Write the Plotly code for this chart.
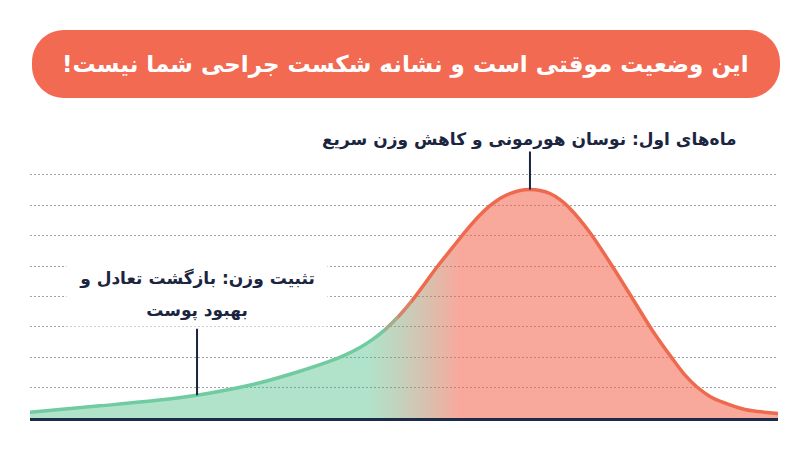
import plotly.graph_objects as go

# ---- data ----
x_vals = [0, 9.36, 17.38, 22.33, 30.08, 35.43, 40.11, 42.11, 44.12, 45.72, 47.19, 49.47,
          51.47, 54.41, 56.42, 58.42, 60.16, 61.5, 62.83, 64.17, 65.51, 66.84,
          68.18, 69.52, 70.86, 72.06, 74.87, 77.81, 80.48, 83.16, 85.83, 87.57, 89.17,
          90.91, 92.51, 95.59, 100]
y_vals = [0.19, 0.40, 0.59, 0.75, 1.12, 1.49, 1.87, 2.07, 2.32, 2.57, 2.85, 3.40,
          3.99, 4.97, 5.59, 6.20, 6.68, 6.99, 7.23, 7.39, 7.49, 7.52,
          7.49, 7.39, 7.19, 6.93, 6.10, 5.01, 3.96, 2.90, 1.97, 1.41, 1.02,
          0.71, 0.53, 0.28, 0.15]
grid_vals = [1, 2, 3, 4, 5, 6, 7, 8]

title_text = "این وضعیت موقتی است و نشانه شکست جراحی شما نیست!\u200f"
peak_label = "ماه‌های اول: نوسان هورمونی و کاهش وزن سریع"
tail_label_1 = "تثبیت وزن: بازگشت تعادل و"
tail_label_2 = "بهبود پوست"
peak_idx = 21
tail_idx = 3

W, H = 800, 450
FONT = "DejaVu Sans"
NAVY = "#1B2540"
X_LEFT_PX, X_RIGHT_PX = 30, 778
X_MIN, X_MAX = 0, 100
Y_RANGE = [0, 8.5]
Y_DOMAIN = [(H - 418) / H, (H - 159.8) / H]
SMOOTH = 0.8


def px_to_x(px):
    return X_MIN + (px - X_LEFT_PX) / (X_RIGHT_PX - X_LEFT_PX) * (X_MAX - X_MIN)


fig = go.Figure()

# gradient filled area
fig.add_trace(go.Scatter(
    x=x_vals, y=y_vals, mode="lines",
    line=dict(width=0, shape="spline", smoothing=SMOOTH),
    fill="tozeroy",
    fillgradient=dict(
        type="horizontal",
        colorscale=[[0, "rgba(60,185,125,0.40)"], [0.45, "rgba(60,185,125,0.40)"],
                    [0.575, "rgba(244,100,78,0.56)"], [1, "rgba(244,100,78,0.56)"]],
        start=0, stop=100),
    hoverinfo="skip", showlegend=False))

# outline: the same full curve drawn in clipped windows (green -> blend -> coral)
windows = [("x2", X_LEFT_PX, 385, "rgb(112,203,160)"),
           ("x3", 385, 398, "rgb(168,172,138)"),
           ("x4", 398, 412, "rgb(216,132,106)"),
           ("x5", 412, X_RIGHT_PX, "#EE6A4F")]
axis_defs = {}
for name, pa, pb, col in windows:
    fig.add_trace(go.Scatter(
        x=x_vals, y=y_vals, mode="lines", xaxis=name, yaxis="y2",
        line=dict(width=3.5, color=col, shape="spline", smoothing=SMOOTH),
        hoverinfo="skip", showlegend=False))
    axis_defs["xaxis" + name[1:]] = dict(
        domain=[pa / W, pb / W], range=[px_to_x(pa), px_to_x(pb)],
        anchor="y2", visible=False, fixedrange=True)

# banner (pill shape) in pixel coordinates converted to paper
def P(px, py):
    return f"{px / W:.5f},{1 - py / H:.5f}"

x0, x1, y0, y1, r = 32, 780, 30, 98, 32
k = 0.5523 * r
path = (f"M{P(x0 + r, y0)} L{P(x1 - r, y0)} "
        f"C{P(x1 - r + k, y0)} {P(x1, y0 + r - k)} {P(x1, y0 + r)} "
        f"L{P(x1, y1 - r)} "
        f"C{P(x1, y1 - r + k)} {P(x1 - r + k, y1)} {P(x1 - r, y1)} "
        f"L{P(x0 + r, y1)} "
        f"C{P(x0 + r - k, y1)} {P(x0, y1 - r + k)} {P(x0, y1 - r)} "
        f"L{P(x0, y0 + r)} "
        f"C{P(x0, y0 + r - k)} {P(x0 + r - k, y0)} {P(x0 + r, y0)} Z")

label_font = dict(family=FONT, size=17, color=NAVY, weight="bold")

fig.update_layout(
    width=W, height=H,
    margin=dict(l=0, r=0, t=0, b=0),
    paper_bgcolor="white", plot_bgcolor="rgba(0,0,0,0)",
    showlegend=False,
    shapes=[dict(type="path", path=path, xref="paper", yref="paper",
                 fillcolor="#F26A52", line=dict(width=0), layer="above")],
    xaxis=dict(range=[X_MIN, X_MAX], domain=[X_LEFT_PX / W, X_RIGHT_PX / W], showgrid=False,
               showline=True, linecolor="#1E2B47", linewidth=3,
               showticklabels=False, ticks="", zeroline=False, fixedrange=True),
    yaxis=dict(range=Y_RANGE, domain=Y_DOMAIN,
               tickvals=grid_vals, showgrid=True, gridcolor="#9EA3AB",
               griddash="2px,2px", gridwidth=1, showticklabels=False,
               ticks="", zeroline=False, showline=False, fixedrange=True),
    yaxis2=dict(range=Y_RANGE, domain=Y_DOMAIN, anchor="x2", visible=False,
                showgrid=False, fixedrange=True),
    annotations=[
        dict(x=406 / W, y=1 - 64 / H, xref="paper", yref="paper", showarrow=False,
             xanchor="center", yanchor="middle",
             text=title_text, font=dict(family=FONT, size=23, color="white", weight="bold")),
        dict(x=x_vals[peak_idx], y=y_vals[peak_idx], xref="x", yref="y",
             text=peak_label, showarrow=True, arrowhead=0, arrowwidth=2,
             arrowcolor=NAVY, ax=0, ay=-50, standoff=0, font=label_font),
        # connector line for the left label
        dict(x=x_vals[tail_idx], y=y_vals[tail_idx], xref="x", yref="y",
             text="", showarrow=True, arrowhead=0, arrowwidth=2,
             arrowcolor=NAVY, ax=0, ay=-68, standoff=0),
        dict(x=x_vals[tail_idx], y=y_vals[tail_idx], xref="x", yref="y",
             text=tail_label_1, showarrow=False, yshift=117, width=250,
             align="center", bgcolor="white", borderpad=5, font=label_font),
        dict(x=x_vals[tail_idx], y=y_vals[tail_idx], xref="x", yref="y",
             text=tail_label_2, showarrow=False, yshift=85, width=250,
             align="center", bgcolor="white", borderpad=5, font=label_font),
    ],
    **axis_defs,
)

fig.write_html("out.html", config={"displayModeBar": False},
               post_script="document.body.style.margin='0px';")
